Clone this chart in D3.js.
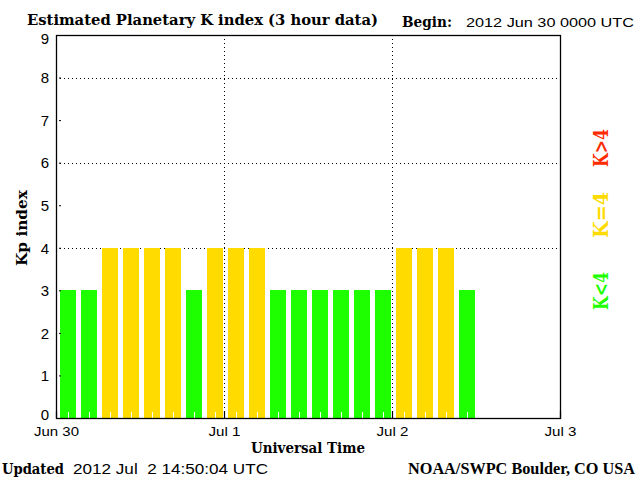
<!DOCTYPE html>
<html><head><meta charset="utf-8">
<script src="https://cdn.jsdelivr.net/npm/d3@7"></script>
<style>
html,body{margin:0;padding:0;background:#fff;}
svg{display:block;}
</style></head>
<body>
<script>
// ---- data ----
const binStarts = [
  "2012-06-30T00:00Z","2012-06-30T03:00Z","2012-06-30T06:00Z","2012-06-30T09:00Z",
  "2012-06-30T12:00Z","2012-06-30T15:00Z","2012-06-30T18:00Z","2012-06-30T21:00Z",
  "2012-07-01T00:00Z","2012-07-01T03:00Z","2012-07-01T06:00Z","2012-07-01T09:00Z",
  "2012-07-01T12:00Z","2012-07-01T15:00Z","2012-07-01T18:00Z","2012-07-01T21:00Z",
  "2012-07-02T00:00Z","2012-07-02T03:00Z","2012-07-02T06:00Z","2012-07-02T09:00Z"
];
const kpValues = [3,3,4,4,4,4,3,4,4,4,3,3,3,3,3,3,4,4,4,3];
const xTickDates = ["2012-06-30T00:00Z","2012-07-01T00:00Z","2012-07-02T00:00Z","2012-07-03T00:00Z"];
const xTickLabels = ["Jun 30","Jul 1","Jul 2","Jul 3"];
const yTicks = [0,1,2,3,4,5,6,7,8,9];
const yGrid = [4,6,8];
const legendLabels = ["K>4","K=4","K<4"];
const title = "Estimated Planetary K index (3 hour data)";
const beginLabel = "Begin:";
const beginValue = "2012 Jun 30 0000 UTC";
const updatedLabel = "Updated";
const updatedValue = "2012 Jul  2 14:50:04 UTC";
const credit = "NOAA/SWPC Boulder, CO USA";

const GREEN = "#1eff00", YELLOW = "#ffdb00", RED = "#ff2a00";
const colorFor = v => v < 4 ? GREEN : (v === 4 ? YELLOW : RED);

const W = 640, H = 480;
const L = 56, R = 560, T = 35, B = 418;
const BIN_MS = 3*3600*1000;

const svg = d3.select("body").append("svg").attr("width", W).attr("height", H);
svg.append("rect").attr("width", W).attr("height", H).attr("fill", "#fff");

const x = d3.scaleUtc()
  .domain([new Date(xTickDates[0]), new Date(xTickDates[3])])
  .range([L, R]);
const y = d3.scaleLinear().domain([0, 9]).range([B, T]);

const serif = "'DejaVu Serif', serif";
const narrowSerif = "'Liberation Serif', 'Times New Roman', serif";
const sans = "'Liberation Sans', Arial, sans-serif";

// grid (horizontal dotted)
svg.append("g").selectAll("line").data(yGrid).join("line")
  .attr("x1", L).attr("x2", R)
  .attr("y1", d => Math.round(y(d)) + 0.5).attr("y2", d => Math.round(y(d)) + 0.5)
  .attr("stroke", "#000").attr("stroke-width", 1).attr("stroke-dasharray", "1,3");

// bars
const bw = 16;
const barX = d => Math.round(x(new Date(+d.t + BIN_MS/2))) + 1;
const bars = binStarts.map((s, i) => ({t: new Date(s), v: kpValues[i]}));
svg.append("g").selectAll("rect").data(bars).join("rect")
  .attr("x", d => barX(d) - bw/2)
  .attr("width", bw)
  .attr("y", d => Math.round(y(d.v)))
  .attr("height", d => B - Math.round(y(d.v)))
  .attr("fill", d => colorFor(d.v));

// white minor ticks at bar centers
svg.append("g").selectAll("line").data(bars).join("line")
  .attr("x1", d => barX(d) + 0.5)
  .attr("x2", d => barX(d) + 0.5)
  .attr("y1", B - 6).attr("y2", B)
  .attr("stroke", "#fff").attr("stroke-width", 1);

// vertical dotted day lines
const midDays = xTickDates.slice(1, 3).map(d => new Date(d));
svg.append("g").selectAll("line").data(midDays).join("line")
  .attr("x1", d => Math.round(x(d)) + 0.5).attr("x2", d => Math.round(x(d)) + 0.5)
  .attr("y1", T).attr("y2", B)
  .attr("stroke", "#000").attr("stroke-width", 1).attr("stroke-dasharray", "1,3");

// x axis (major ticks, labels)
const xAxis = d3.axisBottom(x)
  .tickValues(xTickDates.map(d => new Date(d)))
  .tickFormat((d, i) => xTickLabels[i])
  .tickSizeInner(-7).tickSizeOuter(0).tickPadding(14);
const gx = svg.append("g").attr("transform", `translate(0,${B})`).call(xAxis);
gx.select(".domain").remove();
gx.selectAll(".tick line").attr("stroke", "#000").attr("stroke-width", 1.2);
gx.selectAll(".tick text").attr("font-family", sans).attr("font-size", 13)
  .attr("fill", "#000").attr("dy", "0.3em")
  .attr("textLength", (d, i) => i === 0 ? 45 : 32).attr("lengthAdjust", "spacingAndGlyphs");

// y axis
const yAxis = d3.axisLeft(y).tickValues(yTicks).tickFormat(d3.format("d"))
  .tickSizeInner(-5).tickSizeOuter(0).tickPadding(7);
const gy = svg.append("g").attr("transform", `translate(${L},0)`).call(yAxis);
gy.select(".domain").remove();
gy.selectAll(".tick line").attr("stroke", "#000").attr("x1", 3);
gy.selectAll(".tick text").attr("font-family", sans).attr("font-size", 15)
  .attr("fill", "#000").attr("font-weight", 300)
  .attr("dy", d => d === 0 ? "0.1em" : (d === 9 ? "0.55em" : "0.35em"));

// frame
svg.append("rect").attr("x", L + 0.5).attr("y", T + 0.5)
  .attr("width", R - L).attr("height", B - T)
  .attr("fill", "none").attr("stroke", "#000").attr("stroke-width", 1.3);

// titles
svg.append("text").attr("x", 27).attr("y", 25).text(title)
  .attr("font-family", serif).attr("font-size", 14).attr("font-weight", "bold")
  .attr("textLength", 351).attr("lengthAdjust", "spacingAndGlyphs");
svg.append("text").attr("x", 402).attr("y", 27).text(beginLabel)
  .attr("font-family", serif).attr("font-size", 14).attr("font-weight", "bold")
  .attr("textLength", 50).attr("lengthAdjust", "spacingAndGlyphs");
svg.append("text").attr("x", 466).attr("y", 27).text(beginValue)
  .attr("font-family", sans).attr("font-size", 13)
  .attr("textLength", 168).attr("lengthAdjust", "spacingAndGlyphs");

// axis titles
svg.append("text").attr("x", (L + R) / 2).attr("y", 453).attr("text-anchor", "middle")
  .text("Universal Time").attr("font-family", serif).attr("font-size", 14).attr("font-weight", "bold")
  .attr("textLength", 114).attr("lengthAdjust", "spacingAndGlyphs");
svg.append("text").attr("transform", `translate(27,228) rotate(-90)`).attr("text-anchor", "middle")
  .text("Kp index").attr("font-family", serif).attr("font-size", 14).attr("font-weight", "bold")
  .attr("textLength", 76).attr("lengthAdjust", "spacingAndGlyphs");

// footer
svg.append("text").attr("x", 2).attr("y", 474).text(updatedLabel)
  .attr("font-family", serif).attr("font-size", 15).attr("font-weight", "bold")
  .attr("textLength", 62).attr("lengthAdjust", "spacingAndGlyphs");
svg.append("text").attr("x", 73).attr("y", 474).text(updatedValue)
  .attr("font-family", sans).attr("font-size", 15).style("white-space", "pre")
  .attr("xml:space", "preserve")
  .attr("textLength", 195).attr("lengthAdjust", "spacingAndGlyphs");
svg.append("text").attr("x", 408).attr("y", 474).text(credit)
  .attr("font-family", narrowSerif).attr("font-size", 16).attr("font-weight", "bold")
  .attr("textLength", 227).attr("lengthAdjust", "spacingAndGlyphs");

// legend (rotated)
const legendColors = [RED, YELLOW, GREEN];
const legendY = [148, 215, 291];
const legendLen = [38, 46, 38];
svg.append("g").selectAll("text").data(legendLabels).join("text")
  .attr("transform", (d, i) => `translate(608,${legendY[i]}) rotate(-90)`)
  .attr("text-anchor", "middle")
  .attr("font-family", serif).attr("font-size", 20).attr("font-weight", "bold")
  .attr("fill", (d, i) => legendColors[i])
  .attr("textLength", (d, i) => legendLen[i]).attr("lengthAdjust", "spacingAndGlyphs")
  .text(d => d);
</script>
</body></html>
